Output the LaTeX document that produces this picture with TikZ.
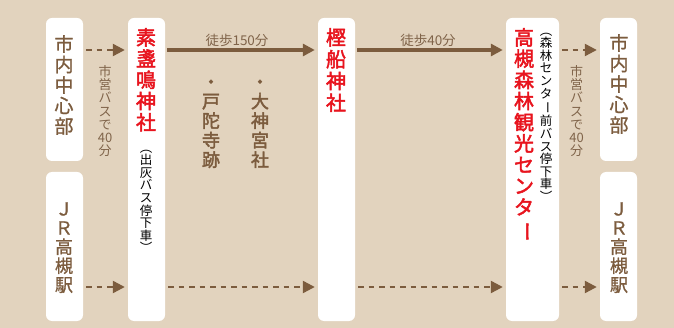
\documentclass[tikz,border=0pt]{standalone}
\usepackage{fontspec}
\usepackage{graphicx}
\setmainfont{Noto Sans CJK JP}
\newfontfamily\jpm[FakeBold=1.0]{Noto Sans CJK JP}
\newfontfamily\jpb[FakeBold=2.4]{Noto Sans CJK JP}
\usetikzlibrary{arrows.meta}
\definecolor{bg}{RGB}{226,211,190}
\definecolor{brn}{RGB}{124,92,62}
\definecolor{lbrn}{RGB}{128,100,74}
\definecolor{jred}{RGB}{232,20,30}
\newcommand\vbar{\rotatebox[origin=c]{-90}{ー}}
\newcommand\vph{\vphantom{国}}
\tikzset{
  box/.style={fill=white, rounded corners=6pt, inner sep=0pt, draw=none},
  vtext/.style={align=center, inner sep=0pt, anchor=north},
  solidarr/.style={draw=brn, line width=4pt, -{Triangle[length=12pt,width=12pt]}, shorten <=2pt, shorten >=3pt},
  dasharr/.style={draw=brn, line width=2.3pt, dash pattern=on 5.5pt off 5pt, -{Triangle[length=12pt,width=12pt]}, shorten <=3pt, shorten >=3pt},
  stn/.style={vtext, text=brn, font=\jpm\fontsize{19}{20.5}\selectfont},
  red/.style={vtext, text=jred, font=\jpb\fontsize{20}{21.2}\selectfont},
  sub/.style={vtext, text=black, font=\fontsize{12.5}{12.6}\selectfont},
  side/.style={vtext, text=lbrn, font=\fontsize{13}{13.3}\selectfont},
  lbl/.style={inner sep=0pt, text=lbrn, font=\fontsize{13.5}{14}\selectfont},
  site/.style={vtext, text=brn, font=\jpb\fontsize{18}{19.5}\selectfont}
}
\begin{document}
\begin{tikzpicture}[x=1pt,y=-1pt]
\fill[bg] (0,0) rectangle (674,328);
\useasboundingbox (0,0) rectangle (674,328);
% boxes
\node[box, minimum width=37pt, minimum height=143pt] (A) at (64.5,89.5) {};
\node[box, minimum width=37pt, minimum height=149pt] (B) at (64.5,246.5) {};
\node[box, minimum width=37pt, minimum height=303pt] (C) at (146.5,169.5) {};
\node[box, minimum width=37pt, minimum height=303pt] (D) at (336.5,169.5) {};
\node[box, minimum width=53pt, minimum height=303pt] (E) at (532.5,169.5) {};
\node[box, minimum width=37pt, minimum height=143pt] (F) at (618.5,89.5) {};
\node[box, minimum width=37pt, minimum height=149pt] (G) at (618.5,246.5) {};
\coordinate (top) at (0,50);
\coordinate (bot) at (0,287);
% arrows
\draw[dasharr] (A.east|-top) -- (C.west|-top);
\draw[solidarr] (C.east|-top) -- (D.west|-top);
\draw[solidarr] (D.east|-top) -- (E.west|-top);
\draw[dasharr] (E.east|-top) -- (F.west|-top);
\draw[dasharr] (B.east|-bot) -- (C.west|-bot);
\draw[dasharr] (C.east|-bot) -- (D.west|-bot);
\draw[dasharr] (D.east|-bot) -- (E.west|-bot);
\draw[dasharr] (E.east|-bot) -- (G.west|-bot);
% station texts
\node[stn] (tA) at (64,35) {\vph 市\\内\\中\\心\\部};
\node[stn] (tF) at (619,34) {\vph 市\\内\\中\\心\\部};
\node[stn, font=\jpm\fontsize{18}{19}\selectfont] (tB) at (64,201) {\vph Ｊ\\Ｒ\\高\\槻\\駅};
\node[stn, font=\jpm\fontsize{18}{19}\selectfont] (tG) at (619,201) {\vph Ｊ\\Ｒ\\高\\槻\\駅};
% shrine texts
\node[red] (tC) at (146,28) {\vph 素\\盞\\鳴\\神\\社};
\node[sub] (sC) at (146,142) {\vph ︵\\出\\灰\\バ\\ス\\停\\下\\車\\︶};
\node[red, font=\jpb\fontsize{20}{21.8}\selectfont] (tD) at (336,28) {\vph 樫\\船\\神\\社};
\node[red] (tE) at (524,28) {\vph 高\\槻\\森\\林\\観\\光\\セ\\ン\\タ\\\vbar};
\node[sub] (sE) at (546,25) {\vph ︵\\森\\林\\セ\\ン\\タ\\\vbar\\前\\バ\\ス\\停\\下\\車\\︶};
% sites
\node[site] (s1) at (211,74) {\vph ・\\戸\\陀\\寺\\跡};
\node[site] (s2) at (260,74) {\vph ・\\大\\神\\宮\\社};
% labels
\node[lbl] (l1) at (237,40) {徒歩150分};
\node[lbl] (l2) at (428,40) {徒歩40分};
\node[side] (m1) at (105,65) {\vph 市\\営\\バ\\ス\\で\\40\\分};
\node[side] (m2) at (576.5,65) {\vph 市\\営\\バ\\ス\\で\\40\\分};
\end{tikzpicture}
\end{document}
